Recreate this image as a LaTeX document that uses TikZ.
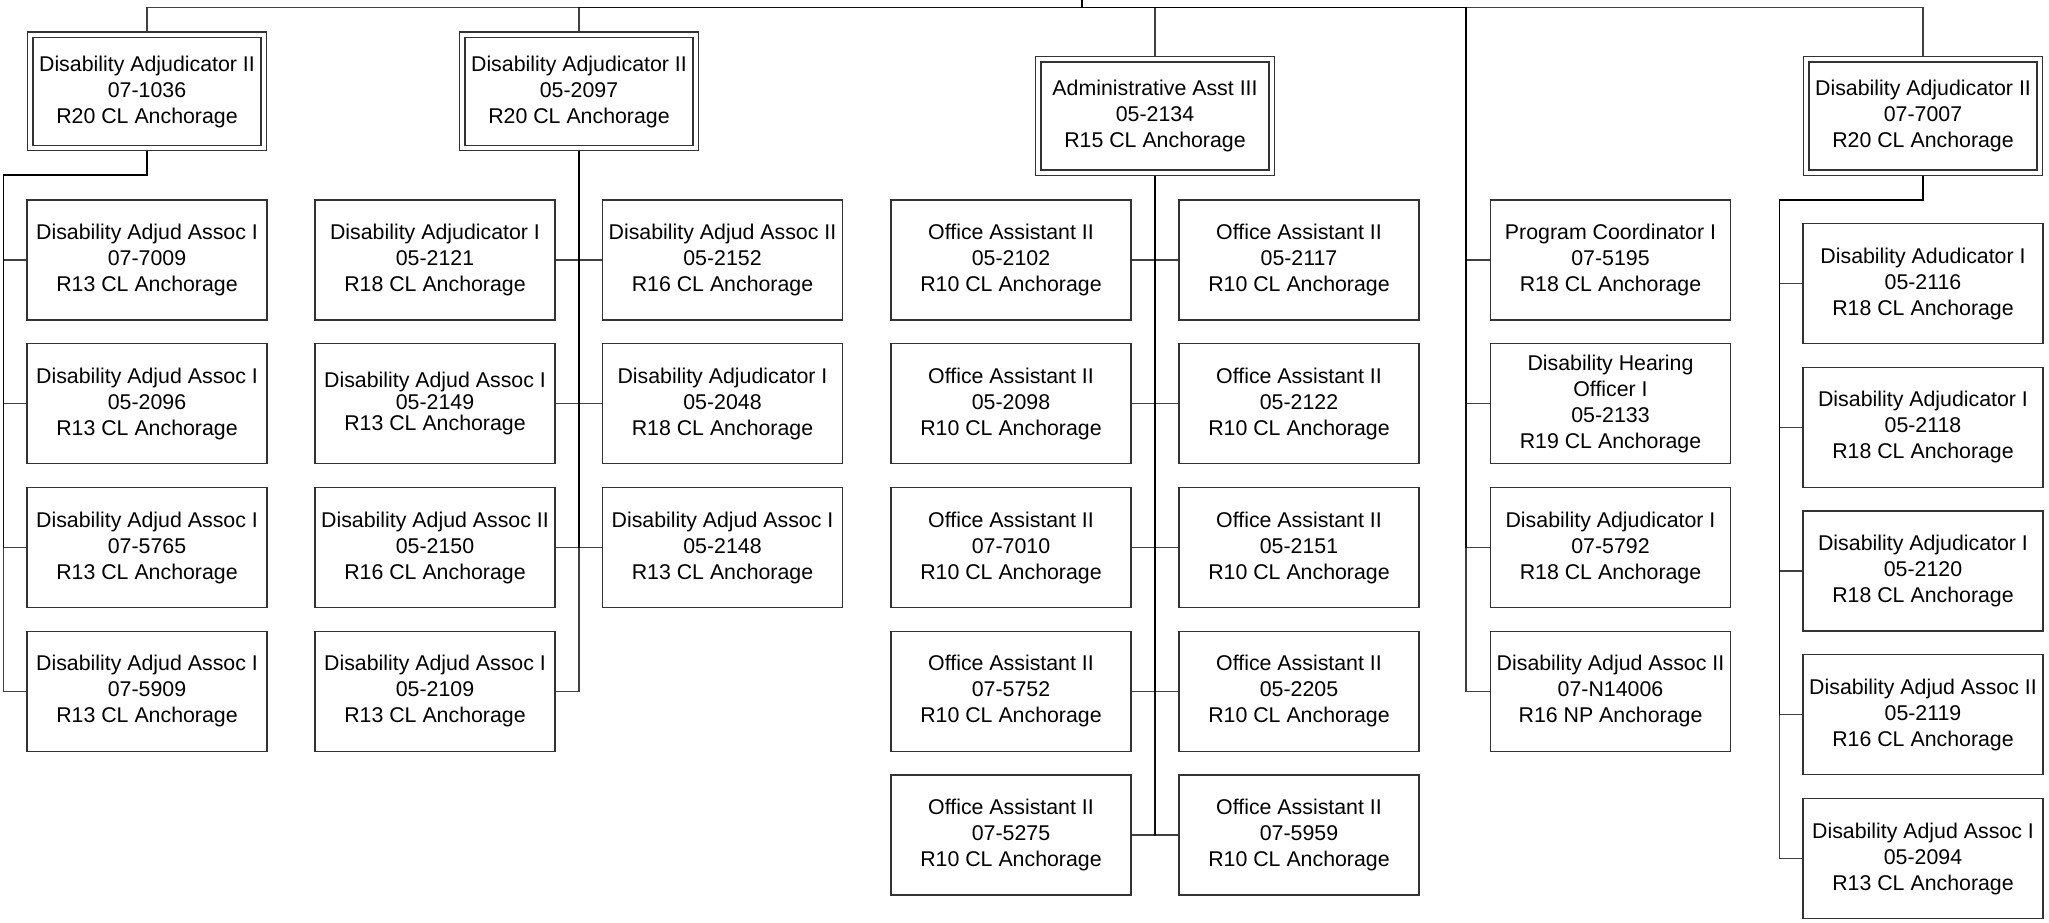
\documentclass[tikz,border=0pt]{standalone}
\usepackage{fontspec}
\setmainfont{Liberation Sans}
\usetikzlibrary{backgrounds}
\tikzset{
  post/.style={draw=black!80, line width=1pt, fill=white, minimum width=180pt, minimum height=90pt, inner sep=0pt, align=center, font=\fontsize{16}{19.5}\selectfont},
  head/.style={post, double, double distance=3pt, minimum width=175pt, minimum height=85pt},
  link/.style={draw=black, draw opacity=0.75, line width=0.9pt}
}
\begin{document}
\begin{tikzpicture}[x=0.75pt,y=-0.75pt]
\useasboundingbox (0,0) rectangle (2049,923);
\coordinate (root) at (1082,0);
\coordinate (hub) at (1082,7.5);
\coordinate (busA) at (3.5,175);
\coordinate (busD) at (1466,7.5);
\coordinate (busE) at (1779.5,200);

\node[head] (pa) at (147,91.5) {Disability Adjudicator II\\07-1036\\R20 CL Anchorage};
\node[post] (a1) at (147,260) {Disability Adjud Assoc I\\07-7009\\R13 CL Anchorage};
\node[post] (a2) at (147,403.75) {Disability Adjud Assoc I\\05-2096\\R13 CL Anchorage};
\node[post] (a3) at (147,547.5) {Disability Adjud Assoc I\\07-5765\\R13 CL Anchorage};
\node[post] (a4) at (147,691.25) {Disability Adjud Assoc I\\07-5909\\R13 CL Anchorage};

\node[head] (pb) at (579,91.5) {Disability Adjudicator II\\05-2097\\R20 CL Anchorage};
\node[post] (b1) at (435,260) {Disability Adjudicator I\\05-2121\\R18 CL Anchorage};
\node[post, font=\fontsize{16}{16}\selectfont] (b2) at (435,403.75) {Disability Adjud Assoc I\\05-2149\\R13 CL Anchorage};
\node[post] (b3) at (435,547.5) {Disability Adjud Assoc II\\05-2150\\R16 CL Anchorage};
\node[post] (b4) at (435,691.25) {Disability Adjud Assoc I\\05-2109\\R13 CL Anchorage};
\node[post] (b5) at (722.5,260) {Disability Adjud Assoc II\\05-2152\\R16 CL Anchorage};
\node[post] (b6) at (722.5,403.75) {Disability Adjudicator I\\05-2048\\R18 CL Anchorage};
\node[post] (b7) at (722.5,547.5) {Disability Adjud Assoc I\\05-2148\\R13 CL Anchorage};

\node[head] (pc) at (1155,116) {Administrative Asst III\\05-2134\\R15 CL Anchorage};
\node[post] (c1) at (1011,260) {Office Assistant II\\05-2102\\R10 CL Anchorage};
\node[post] (c2) at (1011,403.75) {Office Assistant II\\05-2098\\R10 CL Anchorage};
\node[post] (c3) at (1011,547.5) {Office Assistant II\\07-7010\\R10 CL Anchorage};
\node[post] (c4) at (1011,691.25) {Office Assistant II\\07-5752\\R10 CL Anchorage};
\node[post] (c5) at (1011,835) {Office Assistant II\\07-5275\\R10 CL Anchorage};
\node[post] (c6) at (1299,260) {Office Assistant II\\05-2117\\R10 CL Anchorage};
\node[post] (c7) at (1299,403.75) {Office Assistant II\\05-2122\\R10 CL Anchorage};
\node[post] (c8) at (1299,547.5) {Office Assistant II\\05-2151\\R10 CL Anchorage};
\node[post] (c9) at (1299,691.25) {Office Assistant II\\05-2205\\R10 CL Anchorage};
\node[post] (c10) at (1299,835) {Office Assistant II\\07-5959\\R10 CL Anchorage};

\node[post] (d1) at (1610.5,260) {Program Coordinator I\\07-5195\\R18 CL Anchorage};
\node[post] (d2) at (1610.5,403.75) {Disability Hearing\\Officer I\\05-2133\\R19 CL Anchorage};
\node[post] (d3) at (1610.5,547.5) {Disability Adjudicator I\\07-5792\\R18 CL Anchorage};
\node[post] (d4) at (1610.5,691.25) {Disability Adjud Assoc II\\07-N14006\\R16 NP Anchorage};

\node[head] (pe) at (1923,116) {Disability Adjudicator II\\07-7007\\R20 CL Anchorage};
\node[post] (e1) at (1923,283.5) {Disability Adudicator I\\05-2116\\R18 CL Anchorage};
\node[post] (e2) at (1923,427.25) {Disability Adjudicator I\\05-2118\\R18 CL Anchorage};
\node[post] (e3) at (1923,571) {Disability Adjudicator I\\05-2120\\R18 CL Anchorage};
\node[post] (e4) at (1923,714.75) {Disability Adjud Assoc II\\05-2119\\R16 CL Anchorage};
\node[post] (e5) at (1923,858.5) {Disability Adjud Assoc I\\05-2094\\R13 CL Anchorage};

\begin{scope}[on background layer]
\draw[link] (root) -- (hub) -| (pa.north);
\draw[link] (root) -- (hub) -| (pb.north);
\draw[link] (root) -- (hub) -| (pc.north);
\draw[link] (root) -- (hub) -| (pe.north);
\draw[link] (pa.south) |- (busA) |- (a1.west);
\draw[link] (pa.south) |- (busA) |- (a2.west);
\draw[link] (pa.south) |- (busA) |- (a3.west);
\draw[link] (pa.south) |- (busA) |- (a4.west);
\draw[link] (pb.south) |- (b1.east);
\draw[link] (pb.south) |- (b2.east);
\draw[link] (pb.south) |- (b3.east);
\draw[link] (pb.south) |- (b4.east);
\draw[link] (pb.south) |- (b5.west);
\draw[link] (pb.south) |- (b6.west);
\draw[link] (pb.south) |- (b7.west);
\draw[link] (pc.south) |- (c1.east);
\draw[link] (pc.south) |- (c2.east);
\draw[link] (pc.south) |- (c3.east);
\draw[link] (pc.south) |- (c4.east);
\draw[link] (pc.south) |- (c5.east);
\draw[link] (pc.south) |- (c6.west);
\draw[link] (pc.south) |- (c7.west);
\draw[link] (pc.south) |- (c8.west);
\draw[link] (pc.south) |- (c9.west);
\draw[link] (pc.south) |- (c10.west);
\draw[link] (root) -- (hub) -- (busD) |- (d1.west);
\draw[link] (root) -- (hub) -- (busD) |- (d2.west);
\draw[link] (root) -- (hub) -- (busD) |- (d3.west);
\draw[link] (root) -- (hub) -- (busD) |- (d4.west);
\draw[link] (pe.south) |- (busE) |- (e1.west);
\draw[link] (pe.south) |- (busE) |- (e2.west);
\draw[link] (pe.south) |- (busE) |- (e3.west);
\draw[link] (pe.south) |- (busE) |- (e4.west);
\draw[link] (pe.south) |- (busE) |- (e5.west);
\end{scope}
\end{tikzpicture}
\end{document}
